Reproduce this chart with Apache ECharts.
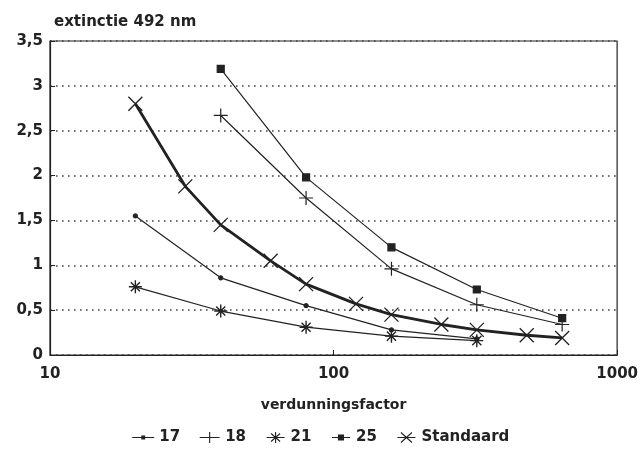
<!DOCTYPE html>
<html>
<head>
<meta charset="utf-8">
<script src="https://cdn.jsdelivr.net/npm/echarts@6/dist/echarts.min.js"></script>
<style>html,body{margin:0;padding:0;background:#fff}#c{width:641px;height:453px}</style>
</head>
<body>
<div id="c"></div>
<script>
const seriesNames = ['17', '18', '21', '25', 'Standaard'];
const xTicks = [10, 100, 1000];
const yTicks = [0, 0.5, 1, 1.5, 2, 2.5, 3, 3.5];

const x17 = [20, 40, 80, 160, 320];
const y17 = [1.55, 0.86, 0.55, 0.28, 0.18];
const x18 = [40, 80, 160, 320, 640];
const y18 = [2.67, 1.75, 0.96, 0.56, 0.34];
const x21 = [20, 40, 80, 160, 320];
const y21 = [0.76, 0.49, 0.31, 0.21, 0.16];
const x25 = [40, 80, 160, 320, 640];
const y25 = [3.19, 1.98, 1.20, 0.73, 0.41];
const xStd = [20, 30, 40, 60, 80, 120, 160, 240, 320, 480, 640];
const yStd = [2.80, 1.88, 1.45, 1.05, 0.79, 0.57, 0.45, 0.34, 0.28, 0.22, 0.19];

const pair = (xs, ys) => xs.map((x, i) => [x, ys[i]]);
const FONT = 'DejaVu Sans';
const INK = '#222';

const symPlus = 'path://M5,0L5,10M0,5L10,5';
const symX = 'path://M0,0L10,10M10,0L0,10';
const symAst = 'path://M5,0L5,10M0,5L10,5M1.5,1.5L8.5,8.5M8.5,1.5L1.5,8.5';

// legend icons: a short line with the marker, in a 22x12 box
const legendIcons = {
  '17': 'path://M0,0L0,0M0,12L0,12M0,6L22,6M9.6,4.6L12.4,4.6L12.4,7.4L9.6,7.4Z',
  '18': 'path://M0,0L0,0M0,12L0,12M1,6L21,6M11,0.5L11,11.5',
  '21': 'path://M0,0L0,0M0,12L0,12M2,6L20,6M11,0.5L11,11.5M6.5,2L15.5,10M15.5,2L6.5,10',
  '25': 'path://M0,0L0,0M0,12L0,12M2,6L20,6M8.5,3.5L13.5,3.5L13.5,8.5L8.5,8.5Z',
  'Standaard': 'path://M0,0L0,0M0,12L0,12M2,6L20,6M5.5,1L16.5,11M16.5,1L5.5,11'
};

function lineSeries(name, data, opts) {
  return Object.assign({
    name: name,
    type: 'line',
    data: data,
    smooth: false,
    lineStyle: { color: INK, width: 1.2 },
    itemStyle: { color: INK, borderColor: INK, borderWidth: 1.2 },
    emphasis: { disabled: true },
    z: 3
  }, opts);
}

const chart = echarts.init(document.getElementById('c'), null, { renderer: 'canvas' });
chart.setOption({
  animation: false,
  backgroundColor: '#fff',
  title: {
    text: 'extinctie 492 nm',
    left: 49, top: 10,
    textStyle: { fontFamily: FONT, fontWeight: 'bold', fontSize: 15, color: INK }
  },
  grid: {
    left: 50, right: 23, top: 41, bottom: 98,
    show: true, borderColor: INK, borderWidth: 1.2, backgroundColor: 'transparent'
  },
  legend: {
    bottom: 3, left: 'center',
    itemWidth: 22, itemHeight: 12, itemGap: 18,
    data: seriesNames.map(n => ({
      name: n,
      icon: legendIcons[n],
      itemStyle: { color: INK, borderColor: INK, borderWidth: 1.1 }
    })),
    textStyle: { fontFamily: FONT, fontWeight: 'bold', fontSize: 15, color: INK }
  },
  xAxis: {
    type: 'log', logBase: 10, min: xTicks[0], max: xTicks[xTicks.length - 1],
    name: 'verdunningsfactor', nameLocation: 'middle', nameGap: 43,
    nameTextStyle: { fontFamily: FONT, fontWeight: 'bold', fontSize: 14, color: INK },
    axisLine: { show: true, lineStyle: { color: INK, width: 1.2 } },
    axisTick: { show: true, inside: true, length: 5, lineStyle: { color: INK } },
    axisLabel: {
      margin: 12, fontFamily: FONT, fontWeight: 'bold', fontSize: 15, color: INK,
      formatter: v => String(Math.round(v))
    },
    splitLine: { show: false },
    minorTick: { show: false }
  },
  yAxis: {
    type: 'value', min: yTicks[0], max: yTicks[yTicks.length - 1], interval: 0.5,
    axisLine: { show: true, lineStyle: { color: INK, width: 1.2 } },
    axisTick: { show: true, inside: true, length: 5, lineStyle: { color: INK } },
    axisLabel: {
      margin: 7, fontFamily: FONT, fontWeight: 'bold', fontSize: 15, color: INK,
      formatter: v => String(v).replace('.', ',')
    },
    splitLine: { show: true, lineStyle: { color: '#444', width: 1.6, type: [1.6, 4.4] } }
  },
  series: [
    lineSeries('17', pair(x17, y17), { symbol: 'circle', symbolSize: 4 }),
    lineSeries('18', pair(x18, y18), { symbol: symPlus, symbolSize: 14, itemStyle: { color: 'none', borderColor: INK, borderWidth: 1.2 } }),
    lineSeries('21', pair(x21, y21), { symbol: symAst, symbolSize: 13, itemStyle: { color: 'none', borderColor: INK, borderWidth: 1.4 } }),
    lineSeries('25', pair(x25, y25), { symbol: 'rect', symbolSize: 7 }),
    lineSeries('Standaard', pair(xStd, yStd), { symbol: symX, symbolSize: 14, lineStyle: { color: INK, width: 2.8 }, itemStyle: { color: 'none', borderColor: INK, borderWidth: 1.3 } })
  ]
});
</script>
</body>
</html>
